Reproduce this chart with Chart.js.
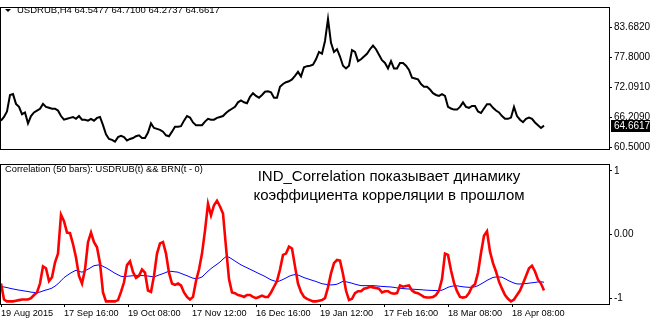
<!DOCTYPE html>
<html>
<head>
<meta charset="utf-8">
<script src="https://cdn.jsdelivr.net/npm/chart.js@4.4.1/dist/chart.umd.min.js"></script>
<style>
html, body { margin: 0; padding: 0; background: #fff; overflow: hidden; }
#wrap { position: relative; width: 650px; height: 323px; background: #fff; }
#priceChart { position: absolute; left: 0; top: 0; }
#corrChart { position: absolute; left: 0; top: 157px; }
</style>
</head>
<body>
<div id="wrap">
  <canvas id="priceChart" width="650" height="157"></canvas>
  <canvas id="corrChart" width="650" height="166"></canvas>
</div>
<script>
// one value every STEP bars (H4 bars, first bar = 19 Aug 2015)
var STEP = 3;

var priceClose = [
  65.63, 66.34, 67.40, 70.59, 70.76, 68.87, 68.29, 66.87, 67.22, 65.10,
  66.52, 67.22, 67.58, 67.93, 68.87, 68.29, 68.11, 67.93, 67.93, 67.58,
  66.52, 65.81, 65.98, 66.16, 66.34, 65.98, 66.52, 65.81, 65.81, 65.63,
  65.98, 65.63, 66.16, 66.34, 64.75, 63.00, 62.09, 61.92, 61.56, 62.45,
  62.68, 62.45, 61.79, 62.09, 62.27, 62.62, 62.80, 62.27, 62.27, 63.33,
  65.10, 64.22, 64.04, 63.86, 63.50, 62.80, 62.62, 63.50, 64.45, 64.45,
  64.57, 65.63, 66.52, 66.22, 65.28, 64.75, 64.75, 64.75, 65.45, 65.98,
  65.81, 65.81, 66.16, 66.34, 66.52, 67.10, 67.58, 67.93, 68.29, 69.17,
  69.53, 69.17, 68.99, 70.23, 70.94, 70.41, 70.06, 70.59, 71.21, 71.30,
  71.12, 70.06, 70.06, 72.18, 72.71, 73.06, 73.24, 73.60, 74.30, 75.06,
  74.18, 75.94, 76.16, 76.25, 76.43, 77.49, 78.90, 78.55, 81.03, 85.27,
  80.67, 78.90, 79.43, 78.02, 76.25, 75.72, 76.25, 79.26, 78.90, 77.13,
  77.49, 78.02, 78.55, 79.43, 80.14, 79.43, 78.37, 77.31, 76.78, 75.72,
  77.13, 75.72, 75.72, 76.78, 76.78, 76.25, 75.44, 73.94, 73.77, 73.60,
  72.71, 72.18, 72.18, 71.65, 70.94, 70.59, 70.41, 70.76, 70.41, 68.29,
  67.98, 67.76, 67.76, 68.29, 69.17, 68.29, 68.11, 68.46, 68.46, 67.40,
  67.10, 67.98, 68.82, 68.82, 68.11, 67.58, 67.22, 66.52, 65.98, 65.98,
  66.22, 68.29, 66.52, 65.81, 65.33, 65.98, 66.22, 65.98, 65.28, 64.75,
  64.22, 64.66
];

var corrValues = [
  -0.77, -1.02, -1.05, -1.05, -1.05, -1.04, -1.03, -1.02, -1.02, -1.02,
  -1.00, -0.95, -0.91, -0.77, -0.50, -0.53, -0.73, -0.67, -0.44, -0.30,
  0.31, 0.21, 0.03, 0.02, -0.15, -0.36, -0.65, -0.77, -0.55, -0.12,
  0.03, -0.12, -0.20, -0.45, -0.91, -1.05, -1.05, -1.05, -1.05, -1.03,
  -0.90, -0.75, -0.48, -0.42, -0.59, -0.68, -0.65, -0.55, -0.60, -0.88,
  -0.90, -0.65, -0.30, -0.14, -0.12, -0.30, -0.60, -0.77, -0.79, -0.77,
  -0.80, -0.91, -0.98, -1.02, -0.98, -0.73, -0.55, -0.30, 0.06, 0.48,
  0.30, 0.46, 0.53, 0.44, 0.33, -0.20, -0.70, -0.91, -0.92, -0.95,
  -0.96, -0.98, -0.95, -0.95, -0.98, -1.00, -0.98, -0.96, -0.98, -0.98,
  -0.91, -0.82, -0.73, -0.55, -0.32, -0.30, -0.19, -0.22, -0.50, -0.77,
  -0.90, -0.98, -1.01, -1.03, -1.05, -1.05, -1.04, -1.03, -1.00, -0.83,
  -0.61, -0.45, -0.40, -0.41, -0.62, -0.88, -1.03, -1.01, -0.92, -0.89,
  -0.89, -0.85, -0.84, -0.82, -0.83, -0.84, -0.85, -0.91, -0.89, -0.89,
  -0.92, -0.93, -0.92, -0.80, -0.82, -0.81, -0.80, -0.88, -0.91, -0.92,
  -0.95, -0.98, -0.99, -0.99, -0.98, -0.95, -0.88, -0.70, -0.30, -0.32,
  -0.56, -0.76, -0.89, -0.98, -0.99, -0.98, -0.92, -0.82, -0.78, -0.60,
  -0.29, -0.02, 0.05, -0.27, -0.45, -0.58, -0.74, -0.85, -0.95, -1.01,
  -1.05, -1.02, -0.95, -0.88, -0.77, -0.65, -0.53, -0.49, -0.58, -0.71,
  -0.77, -0.88
];

var corrAverage = [
  -0.814, -0.824, -0.833, -0.845, -0.855, -0.864, -0.873, -0.880, -0.888, -0.895,
  -0.905, -0.909, -0.914, -0.903, -0.886, -0.871, -0.858, -0.841, -0.811, -0.773,
  -0.727, -0.677, -0.644, -0.611, -0.585, -0.561, -0.580, -0.591, -0.568, -0.545,
  -0.518, -0.489, -0.482, -0.474, -0.500, -0.523, -0.550, -0.580, -0.609, -0.633,
  -0.656, -0.661, -0.655, -0.652, -0.647, -0.642, -0.641, -0.645, -0.648, -0.652,
  -0.659, -0.667, -0.648, -0.630, -0.614, -0.595, -0.576, -0.580, -0.586, -0.591,
  -0.611, -0.629, -0.647, -0.667, -0.686, -0.692, -0.685, -0.667, -0.621, -0.576,
  -0.535, -0.500, -0.467, -0.432, -0.386, -0.348, -0.356, -0.386, -0.417, -0.447,
  -0.477, -0.500, -0.523, -0.545, -0.568, -0.591, -0.614, -0.636, -0.659, -0.686,
  -0.712, -0.727, -0.742, -0.727, -0.705, -0.682, -0.656, -0.639, -0.629, -0.636,
  -0.656, -0.677, -0.692, -0.708, -0.723, -0.738, -0.755, -0.773, -0.780, -0.788,
  -0.792, -0.788, -0.780, -0.758, -0.735, -0.742, -0.753, -0.765, -0.780, -0.792,
  -0.803, -0.803, -0.803, -0.803, -0.803, -0.806, -0.811, -0.815, -0.818, -0.821,
  -0.824, -0.830, -0.838, -0.844, -0.848, -0.853, -0.856, -0.858, -0.861, -0.864,
  -0.867, -0.871, -0.874, -0.877, -0.879, -0.879, -0.879, -0.874, -0.853, -0.829,
  -0.815, -0.806, -0.806, -0.814, -0.821, -0.826, -0.829, -0.829, -0.821, -0.803,
  -0.777, -0.750, -0.720, -0.697, -0.674, -0.667, -0.667, -0.671, -0.694, -0.720,
  -0.742, -0.762, -0.776, -0.777, -0.773, -0.770, -0.764, -0.758, -0.752, -0.745,
  -0.742, -0.750
];

var timeBars = [0, 63, 127, 191, 255, 319, 383, 447, 511];
var timeLabels = ['19 Aug 2015', '17 Sep 16:00', '19 Oct 08:00', '17 Nov 12:00', '16 Dec 16:00',
                  '19 Jan 12:00', '17 Feb 16:00', '18 Mar 08:00', '18 Apr 08:00'];
var priceTicks = [60.5, 66.209, 72.091, 77.8, 83.682];
var corrTicks = [-1, 0, 1];
var corrTickLabels = ['-1', '0.00', '1'];

var priceTitle = 'USDRUB,H4 64.5477 64.7100 64.2737 64.6617';
var corrTitle = 'Correlation (50 bars): USDRUB(t) && BRN(t - 0)';
var noteLines = ['IND_Correlation показывает динамику', 'коэффициента корреляции в прошлом'];

var smallFont = '"Liberation Sans", Arial, sans-serif';

function toPoints(arr) {
    return arr.map(function (v, i) { return { x: i * STEP, y: v }; });
}

// black frame round each panel
var frame = {
    id: 'frame',
    afterDraw: function (chart) {
        var a = chart.chartArea, ctx = chart.ctx;
        ctx.save();
        ctx.strokeStyle = '#000';
        ctx.lineWidth = 1;
        ctx.strokeRect(a.left - 0.5, a.top - 0.5, a.right - a.left + 1, a.bottom - a.top + 1);
        ctx.restore();
    }
};

var priceDecor = {
    id: 'priceDecor',
    afterDraw: function (chart) {
        var ctx = chart.ctx;
        ctx.save();
        // small triangle + symbol line
        ctx.fillStyle = '#000';
        ctx.beginPath();
        ctx.moveTo(5, 9); ctx.lineTo(11, 9); ctx.lineTo(8, 12); ctx.closePath();
        ctx.fill();
        ctx.font = '9.5px ' + smallFont;
        ctx.textBaseline = 'middle';
        ctx.textAlign = 'left';
        ctx.fillText(priceTitle, 17, 10);
        // last price tag
        var last = priceClose[priceClose.length - 1];
        var y = Math.round(chart.scales.y.getPixelForValue(last));
        ctx.fillRect(611, y - 6, 39, 12);
        ctx.fillStyle = '#fff';
        ctx.font = '10px ' + smallFont;
        ctx.fillText('64.6617', 614, y + 0.5);
        ctx.restore();
    }
};

var corrDecor = {
    id: 'corrDecor',
    afterDraw: function (chart) {
        var ctx = chart.ctx;
        ctx.save();
        ctx.fillStyle = '#000';
        ctx.textBaseline = 'middle';
        ctx.textAlign = 'left';
        ctx.font = '9.3px ' + smallFont;
        ctx.fillText(corrTitle, 5, 12.5);
        ctx.textAlign = 'center';
        ctx.font = '15px ' + smallFont;
        ctx.fillText(noteLines[0], 389, 20);
        ctx.fillText(noteLines[1], 389, 39);
        ctx.restore();
    }
};

new Chart(document.getElementById('priceChart').getContext('2d'), {
    type: 'line',
    data: {
        datasets: [{
            data: toPoints(priceClose),
            borderColor: '#000',
            borderWidth: 2,
            pointRadius: 0,
            tension: 0
        }]
    },
    options: {
        responsive: false,
        animation: false,
        layout: { padding: { left: 1, top: 2, bottom: 1, right: 0 } },
        plugins: { legend: { display: false }, tooltip: { enabled: false } },
        scales: {
            x: { type: 'linear', min: 0, max: 608, display: false },
            y: {
                position: 'right',
                min: 60.15,
                max: 87.40,
                afterFit: function (scale) { scale.width = 41; },
                afterBuildTicks: function (scale) {
                    scale.ticks = priceTicks.map(function (v) { return { value: v }; });
                },
                ticks: {
                    padding: 2,
                    color: '#000',
                    font: { family: smallFont, size: 10 },
                    callback: function (v) { return Number(v).toFixed(4); }
                },
                grid: { drawOnChartArea: false, tickLength: 3, color: '#000' },
                border: { display: false }
            }
        }
    },
    plugins: [frame, priceDecor]
});

new Chart(document.getElementById('corrChart').getContext('2d'), {
    type: 'line',
    data: {
        datasets: [{
            data: toPoints(corrValues),
            borderColor: '#ff0000',
            borderWidth: 2.6,
            pointRadius: 0,
            tension: 0
        }, {
            data: toPoints(corrAverage),
            borderColor: '#0000ff',
            borderWidth: 1,
            pointRadius: 0,
            tension: 0
        }]
    },
    options: {
        responsive: false,
        animation: false,
        layout: { padding: { left: 1, top: 3, bottom: 0, right: 0 } },
        plugins: { legend: { display: false }, tooltip: { enabled: false } },
        scales: {
            x: {
                type: 'linear',
                min: 0,
                max: 608,
                afterFit: function (scale) { scale.height = 19; },
                afterBuildTicks: function (scale) {
                    scale.ticks = timeBars.map(function (b) { return { value: b }; });
                },
                ticks: {
                    autoSkip: false,
                    maxRotation: 0,
                    align: 'start',
                    padding: 1,
                    color: '#000',
                    font: { family: smallFont, size: 9.2 },
                    callback: function (v, i) { return timeLabels[i]; }
                },
                grid: { drawOnChartArea: false, tickLength: 3, color: '#000' },
                border: { display: false }
            },
            y: {
                position: 'right',
                min: -1.091,
                max: 1.091,
                afterFit: function (scale) { scale.width = 41; },
                afterBuildTicks: function (scale) {
                    scale.ticks = corrTicks.map(function (v) { return { value: v }; });
                },
                ticks: {
                    padding: 2,
                    color: '#000',
                    font: { family: smallFont, size: 10 },
                    callback: function (v, i) { return corrTickLabels[i]; }
                },
                grid: { drawOnChartArea: false, tickLength: 3, color: '#000' },
                border: { display: false }
            }
        }
    },
    plugins: [frame, corrDecor]
});
</script>
</body>
</html>
